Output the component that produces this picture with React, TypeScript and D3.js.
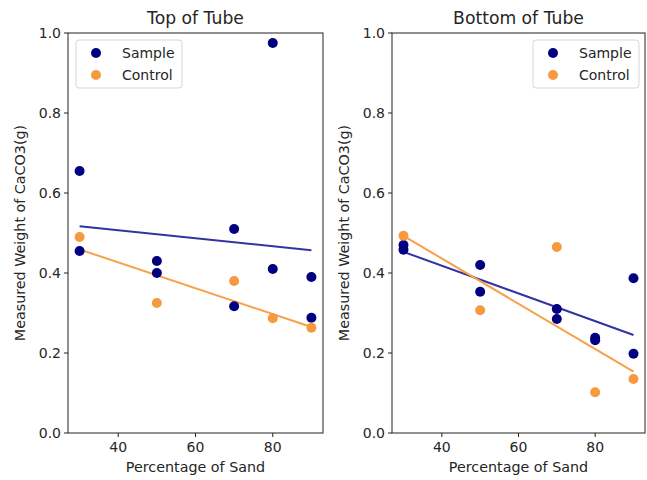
import React from "react";
import * as d3 from "d3";

const topSampleX = [30, 30, 50, 50, 70, 70, 80, 80, 90, 90];
const topSampleY = [0.655, 0.455, 0.43, 0.4, 0.51, 0.317, 0.975, 0.41, 0.39, 0.288];
const topControlX = [30, 50, 70, 80, 90];
const topControlY = [0.49, 0.325, 0.38, 0.287, 0.263];

const bottomSampleX = [30, 30, 50, 50, 70, 70, 80, 80, 90, 90];
const bottomSampleY = [0.47, 0.458, 0.42, 0.353, 0.31, 0.285, 0.238, 0.232, 0.387, 0.198];
const bottomControlX = [30, 50, 70, 80, 90];
const bottomControlY = [0.493, 0.307, 0.465, 0.102, 0.135];

const xTicks = [40, 60, 80];
const yTicks = [0, 0.2, 0.4, 0.6, 0.8, 1.0];
const seriesNames = ["Sample", "Control"];

const W = 647;
const H = 480;
const FONT = "DejaVu Sans, sans-serif";
const TXT = "#262626";
const SAMPLE_DOT = "#000080";
const SAMPLE_LINE = "#3333a2";
const CONTROL_DOT = "#f7993e";
const CONTROL_LINE = "#f7a04a";

// least squares fit
function fit(xs: number[], ys: number[]) {
  const mx = d3.mean(xs)!;
  const my = d3.mean(ys)!;
  let num = 0;
  let den = 0;
  xs.forEach((x, i) => {
    num += (x - mx) * (ys[i] - my);
    den += (x - mx) * (x - mx);
  });
  const slope = num / den;
  return (x: number) => my + slope * (x - mx);
}

type PanelProps = {
  title: string;
  left: number;
  right: number;
  sx: number[];
  sy: number[];
  cx: number[];
  cy: number[];
  legendRight?: boolean;
};

const Panel = ({ title, left, right, sx, sy, cx, cy, legendRight }: PanelProps) => {
  const top = 33;
  const bottom = 433;
  const x = d3.scaleLinear().domain([27, 93]).range([left, right]);
  const y = d3.scaleLinear().domain([0, 1]).range([bottom, top]);

  const sFit = fit(sx, sy);
  const cFit = fit(cx, cy);
  const xr = d3.extent(sx) as [number, number];

  const mkLine = (f: (v: number) => number) =>
    d3
      .line<number>()
      .x((d) => x(d))
      .y((d) => y(f(d)))(xr) as string;

  const legW = 106;
  const legX = legendRight ? right - 6 - legW : left + 8;
  const legY = 40;
  const colors = [SAMPLE_DOT, CONTROL_DOT];

  return (
    <g fontFamily={FONT} fill={TXT}>
      <text x={(left + right) / 2} y={24} textAnchor="middle" fontSize={17.2}>
        {title}
      </text>

      {/* fit lines */}
      <path d={mkLine(sFit)} fill="none" stroke={SAMPLE_LINE} strokeWidth={2} />
      <path d={mkLine(cFit)} fill="none" stroke={CONTROL_LINE} strokeWidth={2} />

      {sx.map((v, i) => (
        <circle key={"s" + i} cx={x(v)} cy={y(sy[i])} r={5} fill={SAMPLE_DOT} />
      ))}
      {cx.map((v, i) => (
        <circle key={"c" + i} cx={x(v)} cy={y(cy[i])} r={5} fill={CONTROL_DOT} />
      ))}

      <rect x={left} y={top} width={right - left} height={bottom - top} fill="none" stroke="#222" strokeWidth={1} />

      {xTicks.map((t) => (
        <g key={t}>
          <line x1={x(t)} x2={x(t)} y1={bottom} y2={bottom + 4} stroke="#222" />
          <text x={x(t)} y={bottom + 19} textAnchor="middle" fontSize={14}>
            {t}
          </text>
        </g>
      ))}
      {yTicks.map((t) => (
        <g key={t}>
          <line x1={left - 4} x2={left} y1={y(t)} y2={y(t)} stroke="#222" />
          <text x={left - 7} y={y(t) + 5} textAnchor="end" fontSize={14}>
            {t.toFixed(1)}
          </text>
        </g>
      ))}

      <text x={(left + right) / 2} y={472} textAnchor="middle" fontSize={14.3}>
        Percentage of Sand
      </text>
      <text
        transform={`translate(${left - 43},${(top + bottom) / 2}) rotate(-90)`}
        textAnchor="middle"
        fontSize={14.3}
      >
        Measured Weight of CaCO3(g)
      </text>

      <rect x={legX} y={legY} width={legW} height={48} rx={3} fill="white" fillOpacity={0.8} stroke="#d6d6d6" />
      {seriesNames.map((n, i) => (
        <g key={n}>
          <circle cx={legX + 20} cy={legY + 13 + i * 22} r={5} fill={colors[i]} />
          <text x={legX + 46} y={legY + 18 + i * 22} fontSize={14}>
            {n}
          </text>
        </g>
      ))}
    </g>
  );
};

export default function App() {
  return (
    <svg width={W} height={H} style={{ position: "absolute", left: 0, top: 0, background: "white" }}>
      <rect width={W} height={H} fill="white" />
      <Panel title="Top of Tube" left={68} right={323} sx={topSampleX} sy={topSampleY} cx={topControlX} cy={topControlY} />
      <Panel
        title="Bottom of Tube"
        left={392}
        right={645}
        sx={bottomSampleX}
        sy={bottomSampleY}
        cx={bottomControlX}
        cy={bottomControlY}
        legendRight
      />
    </svg>
  );
}
